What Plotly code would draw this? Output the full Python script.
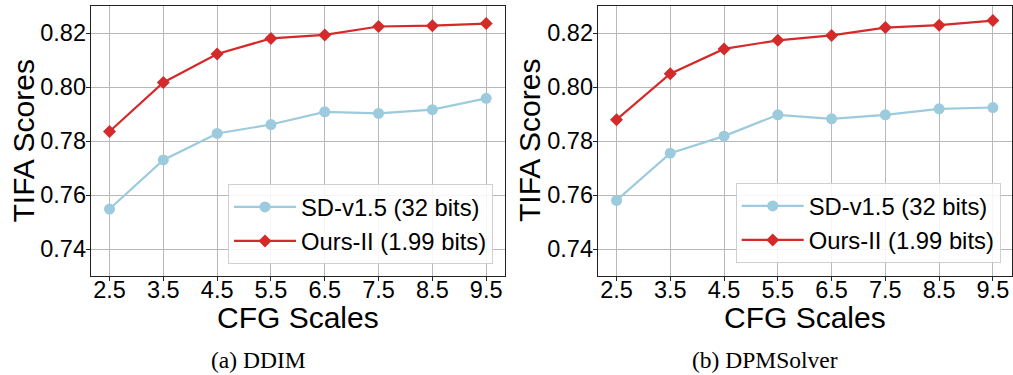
import plotly.graph_objects as go

cfg_scales = [2.5, 3.5, 4.5, 5.5, 6.5, 7.5, 8.5, 9.5]
x_tick_labels = ["2.5", "3.5", "4.5", "5.5", "6.5", "7.5", "8.5", "9.5"]
y_tick_vals = [0.74, 0.76, 0.78, 0.80, 0.82]
y_tick_labels = ["0.74", "0.76", "0.78", "0.80", "0.82"]

ddim_sd = [0.7548, 0.7730, 0.7828, 0.7861, 0.7908, 0.7902, 0.7916, 0.7958]
ddim_ours = [0.7835, 0.8017, 0.8122, 0.8180, 0.8193, 0.8224, 0.8227, 0.8235]
dpm_sd = [0.7580, 0.7755, 0.7818, 0.7897, 0.7882, 0.7897, 0.7919, 0.7924]
dpm_ours = [0.7879, 0.8049, 0.8141, 0.8173, 0.8191, 0.8220, 0.8229, 0.8246]

series_names = ["SD-v1.5 (32 bits)", "Ours-II (1.99 bits)"]
captions = ["(a) DDIM", "(b) DPMSolver"]
x_title = "CFG Scales"
y_title = "TIFA Scores"

BLUE = "#9ccbdd"
RED = "#d42a2a"
W, H = 1013, 375

fig = go.Figure()

panels = [
    dict(sd=ddim_sd, ours=ddim_ours, xa="x", ya="y", leg="legend"),
    dict(sd=dpm_sd, ours=dpm_ours, xa="x2", ya="y2", leg="legend2"),
]
for p in panels:
    fig.add_trace(go.Scatter(
        x=cfg_scales, y=p["sd"], name=series_names[0], mode="lines+markers",
        line=dict(color=BLUE, width=2.2), marker=dict(symbol="circle", size=11, color=BLUE),
        xaxis=p["xa"], yaxis=p["ya"], legend=p["leg"]))
    fig.add_trace(go.Scatter(
        x=cfg_scales, y=p["ours"], name=series_names[1], mode="lines+markers",
        line=dict(color=RED, width=2.2), marker=dict(symbol="diamond", size=10, color=RED),
        xaxis=p["xa"], yaxis=p["ya"], legend=p["leg"]))

tickfont = dict(family="Liberation Sans, Arial, sans-serif", size=23.5, color="black")
common_x = dict(range=[2.15, 9.85], tickvals=cfg_scales, ticktext=x_tick_labels,
                showgrid=True, gridcolor="#b8b8b8", gridwidth=1, zeroline=False,
                showline=True, linecolor="#222", linewidth=1, mirror=True,
                ticks="outside", ticklen=4, tickcolor="#222", tickfont=tickfont,
                ticklabelstandoff=-11)
common_y = dict(range=[0.73, 0.83], tickvals=y_tick_vals, ticktext=y_tick_labels,
                showgrid=True, gridcolor="#b8b8b8", gridwidth=1, zeroline=False,
                showline=True, linecolor="#222", linewidth=1, mirror=True,
                ticks="outside", ticklen=4, tickcolor="#222", tickfont=tickfont,
                ticklabelstandoff=-5)

xd1 = [90.7 / W, 505 / W]
xd2 = [597.7 / W, 1011.7 / W]
yd = [1 - 276 / H, 1 - 6 / H]

legend_common = dict(font=dict(family="Liberation Sans, Arial, sans-serif", size=23.8, color="black"),
                     bgcolor="rgba(255,255,255,0.85)", bordercolor="#d0d0d0", borderwidth=1,
                     xanchor="right", yanchor="bottom", xref="paper", yref="paper",
                     itemwidth=62, tracegroupgap=0)

fig.update_layout(
    width=W, height=H, margin=dict(l=0, r=0, t=0, b=0),
    paper_bgcolor="white", plot_bgcolor="white",
    xaxis=dict(domain=xd1, anchor="y", **common_x),
    yaxis=dict(domain=yd, anchor="x", **common_y),
    xaxis2=dict(domain=xd2, anchor="y2", **common_x),
    yaxis2=dict(domain=yd, anchor="x2", **common_y),
    legend=dict(x=493 / W, y=1 - 264 / H, **legend_common),
    legend2=dict(x=1000.7 / W, y=1 - 263 / H, **legend_common),
    showlegend=True,
)

title_font = dict(family="Liberation Sans, Arial, sans-serif", size=30, color="black")
cap_font = dict(family="Liberation Serif, Times New Roman, serif", size=23.5, color="black")
for i, (xd, ycx) in enumerate([(xd1, 22.5 / W), (xd2, 529 / W)]):
    cx = (xd[0] + xd[1]) / 2
    fig.add_annotation(text=x_title, x=cx, y=1 - 317 / H, xref="paper", yref="paper",
                       xanchor="center", yanchor="middle", showarrow=False, font=title_font,
                       height=26, valign="middle")
    fig.add_annotation(text=y_title, x=ycx, y=1 - 141 / H, xref="paper", yref="paper",
                       xanchor="center", yanchor="middle", textangle=-90, showarrow=False,
                       font=title_font)
    fig.add_annotation(text=captions[i], x=[258 / W, 765 / W][i], y=1 - 360 / H,
                       xref="paper", yref="paper", xanchor="center", yanchor="middle",
                       showarrow=False, font=cap_font)

fig.write_html("out.html")
